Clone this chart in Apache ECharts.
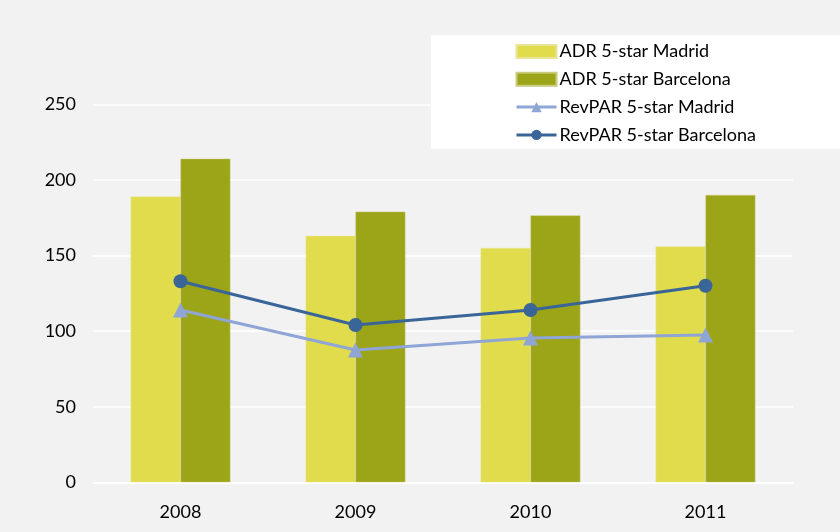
<!DOCTYPE html>
<html><head><meta charset="utf-8">
<script src="https://cdn.jsdelivr.net/npm/echarts@6/dist/echarts.min.js"></script>
<style>html,body{margin:0;padding:0;background:#f2f2f2}#c{width:840px;height:532px}</style>
</head><body><div id="c"></div>
<script>
const categories = ['2008','2009','2010','2011'];
const adrMadrid = [189, 163, 155, 156];
const adrBarcelona = [214, 179, 176.5, 190];
const revparMadrid = [114, 87.5, 95.5, 97.5];
const revparBarcelona = [133, 104, 114, 130];
const yTicks = [0, 50, 100, 150, 200, 250];

const chart = echarts.init(document.getElementById('c'));
const font = 'Lato, "Open Sans", sans-serif';
chart.setOption({
  backgroundColor: '#f2f2f2',
  animation: false,
  textStyle: { fontFamily: font },
  graphic: [{ type: 'rect', z: 0, shape: { x: 431, y: 35, width: 409, height: 114 }, style: { fill: '#ffffff' } }],
  grid: { left: 93, right: 47, top: 104.3, bottom: 49.7, containLabel: false },
  legend: {
    orient: 'vertical', left: 515, top: 42.5, padding: 0, itemWidth: 40, itemHeight: 13, itemGap: 9.8,
    textStyle: { fontFamily: font, fontSize: 18, color: '#000', padding: [0,0,0,-2] },
    z: 5,
    data: [
      { name: 'ADR 5-star Madrid', icon: 'rect' },
      { name: 'ADR 5-star Barcelona', icon: 'rect' },
      { name: 'RevPAR 5-star Madrid', lineStyle: { width: 3 } },
      { name: 'RevPAR 5-star Barcelona', lineStyle: { width: 3 } }
    ]
  },
  xAxis: {
    type: 'category', data: categories,
    axisLine: { show: true, lineStyle: { color: '#ffffff', width: 1.5 } },
    axisTick: { show: false },
    axisLabel: { fontFamily: font, fontSize: 18, color: '#000', margin: 21 }
  },
  yAxis: {
    type: 'value', min: 0, max: 250, interval: 50,
    axisLine: { show: false }, axisTick: { show: false },
    splitLine: { lineStyle: { color: '#ffffff', width: 1.5 } },
    axisLabel: { fontFamily: font, fontSize: 18, color: '#000', margin: 17,
      formatter: v => yTicks.includes(v) ? String(v) : '' }
  },
  series: [
    { name: 'ADR 5-star Madrid', type: 'bar', data: adrMadrid, barGap: '0%', barCategoryGap: '43%',
      itemStyle: { color: '#e1dc4c', borderColor: '#e8e59a', borderWidth: 0.5 } },
    { name: 'ADR 5-star Barcelona', type: 'bar', data: adrBarcelona,
      itemStyle: { color: '#9ca418', borderColor: '#c8cc7a', borderWidth: 0.5 } },
    { name: 'RevPAR 5-star Madrid', type: 'line', data: revparMadrid, symbol: 'triangle', symbolSize: 15,
      lineStyle: { color: '#8ea5d6', width: 3 }, itemStyle: { color: '#8ea5d6' }, z: 3 },
    { name: 'RevPAR 5-star Barcelona', type: 'line', data: revparBarcelona, symbol: 'circle', symbolSize: 14,
      lineStyle: { color: '#3a6599', width: 3 }, itemStyle: { color: '#3a6599' }, z: 4 }
  ]
});
</script></body></html>
